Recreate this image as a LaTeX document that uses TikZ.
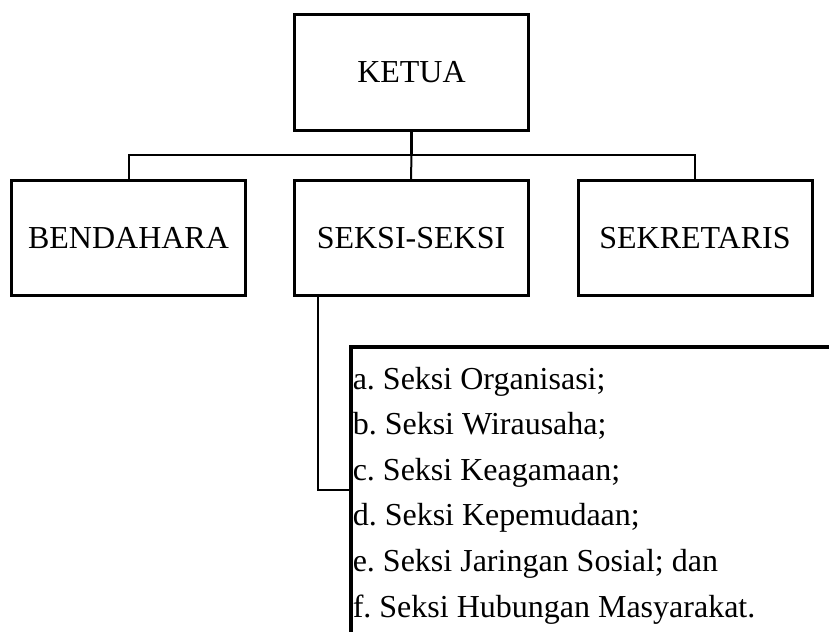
\documentclass[tikz,border=0pt]{standalone}
\usepackage{fontspec}
\setmainfont{Liberation Serif}
\frenchspacing
\begin{document}
\begin{tikzpicture}[x=0.75pt,y=-0.75pt,
  orgbox/.style={draw,line width=2.25pt,rectangle,inner sep=0pt,
    minimum width=175.5pt,minimum height=87pt,font=\fontsize{24pt}{28pt}\selectfont},
  conn/.style={line width=1.5pt},
  item/.style={anchor=base west,inner sep=0pt,font=\fontsize{24pt}{28pt}\selectfont\frenchspacing}]
\useasboundingbox (0,0) rectangle (829,632);
\clip (0,0) rectangle (829,632);
\node[orgbox] (ketua) at (411.5,72.5) {KETUA};
\node[orgbox,minimum height=86.25pt] (bend) at (128.5,238) {BENDAHARA};
\node[orgbox,minimum height=86.25pt] (seksi) at (411,238) {SEKSI-SEKSI};
\node[orgbox,minimum height=86.25pt] (sekr) at (695,238) {SEKRETARIS};
\coordinate (bus) at (0,155);
\coordinate (dropx) at (318,0);
\coordinate (lstjoin) at (351,490);
\draw[line width=2.25pt] (ketua.south) -- (ketua.south |- bus);
\draw[conn] (ketua.south |- bus) -- (seksi.north);
\draw[conn] (bend.north) -- (bend.north |- bus) -- (sekr.north |- bus) -- (sekr.north);
\draw[conn] (seksi.south -| dropx) |- (lstjoin);
\draw[line width=3pt] (845,347) -- (351,347) -- (351,650);
\node[item] (l1) at (352.5,389) {a. Seksi Organisasi;};
\node[item] (l2) at (352.5,434.6) {b. Seksi Wirausaha;};
\node[item] (l3) at (352.5,480.2) {c. Seksi Keagamaan;};
\node[item] (l4) at (352.5,525.8) {d. Seksi Kepemudaan;};
\node[item] (l5) at (352.5,571.4) {e. Seksi Jaringan Sosial; dan};
\node[item] (l6) at (352.5,617) {f. Seksi Hubungan Masyarakat.};
\end{tikzpicture}
\end{document}
